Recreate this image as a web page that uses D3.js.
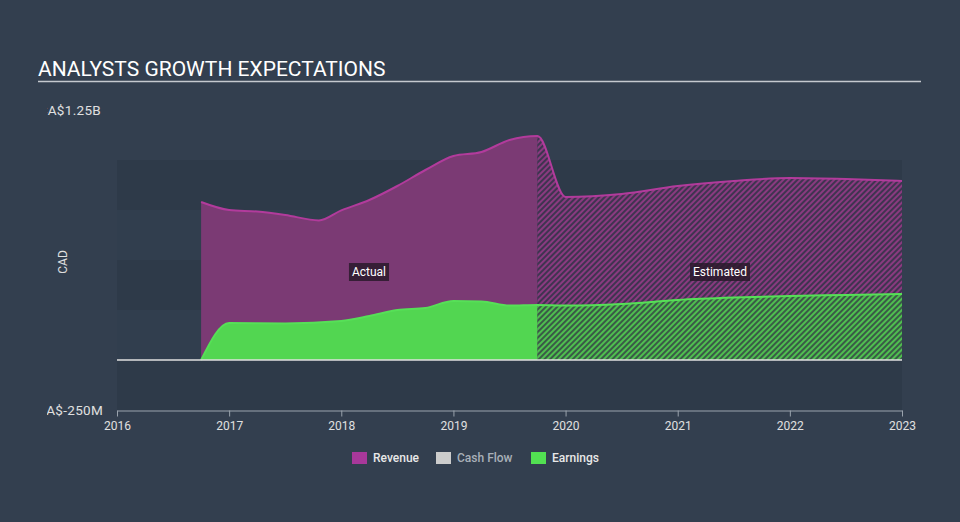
<!DOCTYPE html>
<html>
<head>
<meta charset="utf-8">
<script src="https://cdn.jsdelivr.net/npm/d3@7"></script>
<style>
  body { margin: 0; background: #333f4f; font-family: Roboto, "Open Sans", sans-serif; }
  svg { display: block; }
</style>
</head>
<body>
<div id="chart"></div>
<script>
// valores (CAD)
const revenueYears = [2016.75, 2017, 2017.25, 2017.5, 2017.8, 2018, 2018.25, 2018.5, 2018.75, 2019, 2019.25, 2019.5, 2019.75, 2020, 2020.5, 2021, 2021.5, 2022, 2022.5, 2023];
const revenueValues = [790e6, 750e6, 742e6, 725e6, 698e6, 748e6, 800e6, 870e6, 950e6, 1020e6, 1040e6, 1100e6, 1120e6, 815e6, 830e6, 870e6, 895e6, 910e6, 905e6, 895e6];
const earningsYears = [2016.75, 2017, 2017.5, 2018, 2018.25, 2018.5, 2018.75, 2019, 2019.25, 2019.5, 2019.75, 2020, 2020.5, 2021, 2021.5, 2022, 2022.5, 2023];
const earningsValues = [0, 185e6, 183e6, 195e6, 220e6, 250e6, 260e6, 295e6, 293e6, 272e6, 275e6, 272e6, 280e6, 300e6, 312e6, 320e6, 325e6, 330e6];
const splitYear = 2019.75;
const xTicks = [2016, 2017, 2018, 2019, 2020, 2021, 2022, 2023];
const legendItems = ['Revenue', 'Cash Flow', 'Earnings'];

const W = 960, H = 522;

const svg = d3.select('#chart').append('svg')
    .attr('width', W).attr('height', H);

const x = d3.scaleLinear().domain([2016, 2023]).range([117, 902]);
const y = d3.scaleLinear().domain([-250e6, 1250e6]).range([410, 110]);

const defs = svg.append('defs');
function hatch(id, color, bg) {
    const p = defs.append('pattern')
        .attr('id', id)
        .attr('patternUnits', 'userSpaceOnUse')
        .attr('width', 4).attr('height', 4)
        .attr('patternTransform', 'rotate(45)');
    p.append('rect').attr('width', 4).attr('height', 4).attr('fill', bg);
    p.append('rect').attr('width', 2).attr('height', 4).attr('fill', color);
}
hatch('hatchRev', '#8a3a80', '#3f3450');
hatch('hatchEarn', '#4fbf4f', '#3a5a47');

defs.append('clipPath').attr('id', 'clipActual')
    .append('rect').attr('x', 0).attr('y', 0).attr('width', x(splitYear)).attr('height', H);
defs.append('clipPath').attr('id', 'clipEst')
    .append('rect').attr('x', x(splitYear)).attr('y', 0).attr('width', x(2023) - x(splitYear)).attr('height', H);
defs.append('clipPath').attr('id', 'clipYLabels')
    .append('rect').attr('x', 47).attr('y', 0).attr('width', 70).attr('height', H);

// faixas de fundo
const bands = d3.range(-250e6, 1000e6, 250e6);
svg.selectAll('.band')
    .data(bands)
    .enter().append('rect')
    .attr('x', x(2016))
    .attr('width', x(2023) - x(2016))
    .attr('y', d => y(d + 250e6))
    .attr('height', d => y(d) - y(d + 250e6))
    .attr('fill', (d, i) => i % 2 === 0 ? '#2e3a49' : '#313e4e');

// título
svg.append('text')
    .attr('x', 38).attr('y', 76)
    .attr('fill', '#ffffff')
    .style('font-size', '21px')
    .text('ANALYSTS GROWTH EXPECTATIONS');
svg.append('line')
    .attr('x1', 38).attr('x2', 921).attr('y1', 81.5).attr('y2', 81.5)
    .attr('stroke', '#c5c9cf').attr('stroke-width', 1.5);

const revData = revenueYears.map((d, i) => ({ x: d, v: revenueValues[i] }));
const earnData = earningsYears.map((d, i) => ({ x: d, v: earningsValues[i] }));

const area = d3.area().x(d => x(d.x)).y0(y(0)).y1(d => y(d.v)).curve(d3.curveMonotoneX);
const line = d3.line().x(d => x(d.x)).y(d => y(d.v)).curve(d3.curveMonotoneX);

// área receita
svg.append('path').datum(revData)
    .attr('d', area).attr('fill', '#7b3a74')
    .attr('clip-path', 'url(#clipActual)');
svg.append('path').datum(revData)
    .attr('d', area).attr('fill', 'url(#hatchRev)')
    .attr('clip-path', 'url(#clipEst)');
svg.append('path').datum(revData)
    .attr('d', line).attr('fill', 'none')
    .attr('stroke', '#b23b9c').attr('stroke-width', 2);

// área lucro
svg.append('path').datum(earnData)
    .attr('d', area).attr('fill', '#52d651')
    .attr('clip-path', 'url(#clipActual)');
svg.append('path').datum(earnData)
    .attr('d', area).attr('fill', 'url(#hatchEarn)')
    .attr('clip-path', 'url(#clipEst)');
svg.append('path').datum(earnData)
    .attr('d', line).attr('fill', 'none')
    .attr('stroke', '#56e057').attr('stroke-width', 2);

// linha do zero
svg.append('line')
    .attr('x1', x(2016)).attr('x2', x(2023))
    .attr('y1', y(0)).attr('y2', y(0))
    .attr('stroke', '#e0e0e0').attr('stroke-width', 1.5);

// rótulos Actual / Estimated
function tag(txt, cx) {
    const g = svg.append('g');
    const t = g.append('text')
        .attr('x', cx).attr('y', 276)
        .attr('text-anchor', 'middle')
        .attr('fill', '#ffffff')
        .style('font-size', '12px')
        .text(txt);
    const b = t.node().getBBox();
    g.insert('rect', 'text')
        .attr('x', b.x - 3).attr('y', 263)
        .attr('width', b.width + 6).attr('height', 18)
        .attr('fill', '#2a1a2c').attr('opacity', 0.85);
}
tag('Actual', 369);
tag('Estimated', 720);

// eixo x
const xAxis = svg.append('g')
    .attr('transform', `translate(0,${y(-250e6) + 0.5})`)
    .call(d3.axisBottom(x).tickValues(xTicks).tickFormat(d3.format('d')).tickSize(6).tickSizeOuter(0));
xAxis.select('.domain').attr('stroke', '#9aa3ad');
xAxis.selectAll('.tick line').attr('stroke', '#9aa3ad');
xAxis.selectAll('.tick text')
    .attr('fill', '#e0e0e0').style('font-size', '12px').attr('dy', '0.9em')
    .style('font-family', 'Roboto, sans-serif');

// rótulos y (cortados na esquerda)
const yLab = svg.append('g').attr('clip-path', 'url(#clipYLabels)');
yLab.selectAll('text')
    .data([1250e6, -250e6])
    .enter().append('text')
    .attr('x', d => d > 0 ? 101 : 103)
    .attr('y', d => y(d) + 4.5)
    .attr('text-anchor', 'end')
    .attr('fill', '#e0e0e0')
    .style('font-size', '13.5px')
    .style('letter-spacing', '0.3px')
    .text(d => d > 0 ? 'CA$1.25B' : 'CA$-250M');

svg.append('text')
    .attr('transform', `translate(67,262) rotate(-90)`)
    .attr('text-anchor', 'middle')
    .attr('fill', '#e0e0e0')
    .style('font-size', '12px')
    .text('CAD');

// legenda
const legendColors = ['#a8389a', '#cccccc', '#52e052'];
const legendX = [352, 436, 531];
const lg = svg.append('g');
legendItems.forEach((name, i) => {
    lg.append('rect')
        .attr('x', legendX[i]).attr('y', 452)
        .attr('width', 15).attr('height', 12)
        .attr('fill', legendColors[i]);
    lg.append('text')
        .attr('x', legendX[i] + 21).attr('y', 462)
        .attr('fill', i === 1 ? '#a9b0b8' : '#e8e8e8')
        .style('font-size', '12px')
        .style('font-weight', 500)
        .text(name);
});
</script>
</body>
</html>
